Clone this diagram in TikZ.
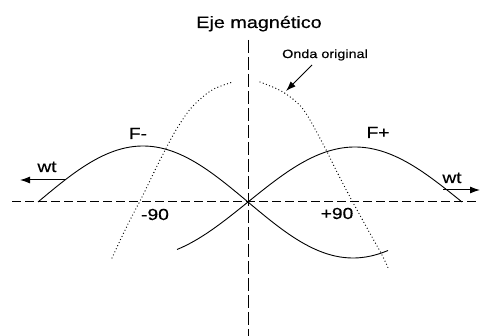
\documentclass[tikz,border=0pt]{standalone}
\usepackage{fontspec}
\newfontfamily\lab[FakeStretch=1.2,FakeBold=0.4]{Liberation Sans}
\usetikzlibrary{arrows.meta}
\begin{document}
\begin{tikzpicture}[x=1pt,y=-1pt,
  lbl/.style={inner sep=0pt,anchor=base,font=\lab\fontsize{16}{16}\selectfont},
  axisline/.style={line width=1pt},
  wave/.style={line width=0.9pt},
  dotwave/.style={line width=1.3pt,line cap=round,dash pattern=on 0pt off 3.4pt},
  arr/.style={line width=1pt,-{Latex[length=10pt,width=7pt]}}]
\useasboundingbox (0,0) rectangle (480,336);
% axes
\coordinate (hl) at (12,202);
\coordinate (hr) at (480,202);
\coordinate (vt) at (248,40);
\coordinate (vb) at (248,336);
\draw[axisline,dash pattern=on 9pt off 4pt] (hl) -- (hr);
\draw[axisline,dash pattern=on 13pt off 4pt] (vt) -- (vb);
% F- wave
\draw[wave] plot[domain=38:388,samples=120] (\x,{202-56*sin((\x-38)*0.857143)});
% F+ wave
\draw[wave] plot[domain=177:462,samples=120] (\x,{202-55*sin((\x-248)*0.841121)});
% original wave (dotted)
\draw[dotwave] plot[smooth] coordinates {(112,258) (127,226) (143,195) (160,160) (176,130) (192,107) (212,90) (233,82)};
\draw[dotwave] plot[smooth] coordinates {(260,82) (283,92) (303,109) (322,142) (336,170) (350,197) (367,228) (382,255) (389,270)};
% labels
\node[lbl,font=\lab\fontsize{16.5}{16.5}\selectfont] (title) at (259,28) {Eje magnético};
\node[lbl,font=\lab\fontsize{12}{12}\selectfont] (onda) at (325,58) {Onda original};
\node[lbl] (fm) at (138,139) {F-};
\node[lbl] (fp) at (378,138) {F+};
\node[lbl] (m90) at (155,220) {-90};
\node[lbl] (p90) at (337,219) {+90};
\node[lbl] (wtl) at (47,172) {wt};
\node[lbl] (wtr) at (452,183) {wt};
% arrows
\coordinate (oa) at (312,65);
\coordinate (ob) at (286,91);
\draw[arr] (oa) -- (ob);
\coordinate (la) at (65,180);
\coordinate (lb) at (20,180);
\draw[arr] (la) -- (lb);
\coordinate (ra) at (443,190);
\coordinate (rb) at (480,190);
\draw[arr] (ra) -- (rb);
\end{tikzpicture}
\end{document}
